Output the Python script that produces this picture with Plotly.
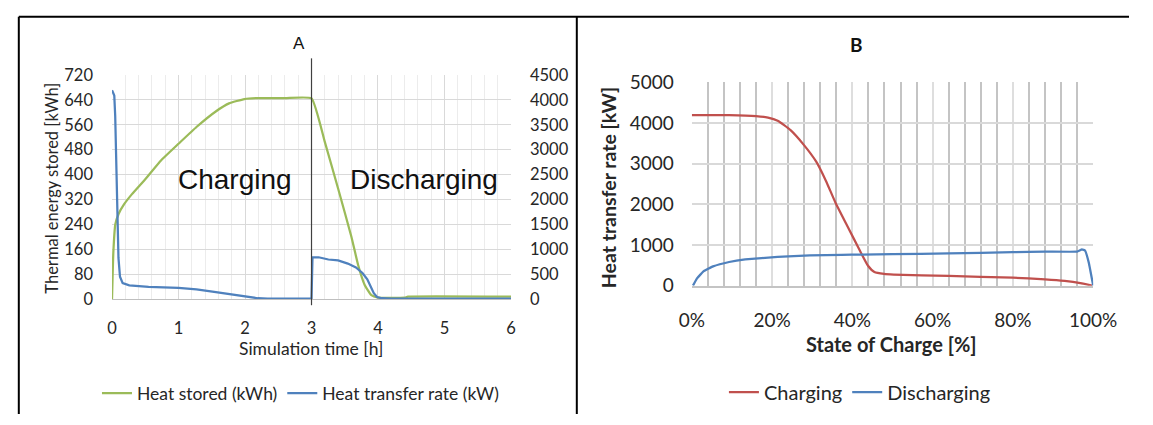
import plotly.graph_objects as go

# ---------------- Data: panel A (time series) ----------------
stored_t_h = [0, 0.02, 0.05, 0.10, 0.18, 0.30, 0.50, 0.74, 1.00, 1.27, 1.56, 1.76, 1.99, 2.19, 2.60, 3.00,
              3.20, 3.40, 3.60, 3.70, 3.80, 3.90, 4.00, 4.40, 4.45, 6.00]
stored_kwh = [0, 150, 240, 274, 304, 337, 385, 446, 499, 553, 603, 629, 643, 646, 646, 645,
              505, 355, 200, 110, 45, 12, 4, 4, 7, 7]

rate_t_h = [0, 0.034, 0.048, 0.063, 0.077, 0.097, 0.12, 0.16, 0.26, 0.55, 1.00, 1.27, 1.51, 1.76, 2.00,
            2.19, 2.34, 2.99, 3.00, 3.015, 3.107, 3.254, 3.40, 3.546, 3.668, 3.766, 3.839, 3.888,
            3.937, 3.985, 4.06, 4.20, 6.00]
rate_kw = [4196, 4089, 3677, 2726, 1648, 824, 444, 317, 273, 241, 222, 190, 146, 95, 44,
           13, 6, 5, 5, 837, 837, 792, 773, 710, 634, 520, 393, 254,
           114, 38, 13, 5, 5]

phase_switch_h = 3

# ---------------- Data: panel B (state of charge) ----------------
charge_soc = [0, 9.3, 16, 19, 21.4, 24.6, 27.8, 31, 33.4, 35.8, 39, 41.8, 43.9, 45.5, 47.9, 50.3,
              64, 80, 88, 92.9, 96.8, 99.7]
charge_kw = [4194, 4194, 4170, 4132, 4054, 3822, 3473, 3047, 2581, 2039, 1419, 876, 488, 333, 287, 271,
             240, 194, 155, 116, 62, 0]

discharge_soc = [0.3, 1.3, 2.9, 5.3, 9.3, 13.3, 21.4, 29.4, 37.4, 42.2, 50, 64, 80, 88, 96, 97.2, 98, 98.9, 100]
discharge_kw = [0, 178, 349, 473, 581, 643, 705, 744, 755, 765, 775, 791, 822, 837, 837, 891, 860, 566, 0]

left_ticks_a = list(range(0, 721, 80))
right_ticks_a = list(range(0, 4501, 500))

# ---------------- Style ----------------
W, H = 1153, 425
GREEN = "#9BBB59"
BLUE = "#4F81BD"
RED = "#C0504D"
TXT = "#262626"
FONT = "Lato, 'Open Sans', sans-serif"
ARIAL = "'Liberation Sans', Arial, sans-serif"


def px_x(p):
    return p / W


def px_y(p):
    return (H - p) / H


fig = go.Figure()

fig.add_trace(go.Scatter(x=stored_t_h, y=stored_kwh, mode="lines", name="Heat stored (kWh)",
                         line=dict(color=GREEN, width=2.25, shape="spline", smoothing=0.4),
                         xaxis="x", yaxis="y", legend="legend"))
fig.add_trace(go.Scatter(x=rate_t_h, y=rate_kw, mode="lines", name="Heat transfer rate (kW)",
                         line=dict(color=BLUE, width=2.25),
                         xaxis="x", yaxis="y2", legend="legend"))
fig.add_trace(go.Scatter(x=charge_soc, y=charge_kw, mode="lines", name="Charging",
                         line=dict(color=RED, width=2.25, shape="spline", smoothing=0.5),
                         xaxis="x2", yaxis="y3", legend="legend2"))
fig.add_trace(go.Scatter(x=discharge_soc, y=discharge_kw, mode="lines", name="Discharging",
                         line=dict(color=BLUE, width=2.25, shape="spline", smoothing=0.3),
                         xaxis="x2", yaxis="y3", legend="legend2"))

tickfont_a = dict(family=FONT, size=16.5, color=TXT)
tickfont_b = dict(family=FONT, size=19, color=TXT)

fig.update_layout(
    width=W, height=H,
    margin=dict(l=0, r=0, t=0, b=0),
    paper_bgcolor="white", plot_bgcolor="white",
    font=dict(family=FONT, color=TXT),
    xaxis=dict(domain=[px_x(102.3), px_x(514.5)], anchor="y", range=[0, 6], dtick=1,
               showgrid=True, gridcolor="#d9d9d9", gridwidth=1,
               minor=dict(dtick=0.2, showgrid=True, gridcolor="#ececec", gridwidth=1),
               zeroline=False, showline=True, linecolor="#bfbfbf", linewidth=1,
               ticks="", tickfont=tickfont_a, ticklabelstandoff=14, fixedrange=True),
    yaxis=dict(domain=[px_y(303.3), px_y(66.7)], anchor="x", range=[0, 720],
               tickvals=left_ticks_a, showgrid=True, gridcolor="#d9d9d9", gridwidth=1,
               zeroline=False, showline=False, ticks="", tickfont=tickfont_a,
               ticklabelstandoff=18, fixedrange=True),
    yaxis2=dict(overlaying="y", side="right", anchor="x", range=[0, 4500],
                tickvals=right_ticks_a, showgrid=False, zeroline=False, showline=False,
                ticks="", tickfont=tickfont_a, ticklabelstandoff=18, fixedrange=True),
    xaxis2=dict(domain=[px_x(701.3), px_x(1116)], anchor="y3", range=[0, 100], dtick=20,
                ticksuffix="%", showgrid=True, gridcolor="#dedede", gridwidth=1.5,
                minor=dict(dtick=4, showgrid=True, gridcolor="#c4c4c4", gridwidth=1.5),
                zeroline=False, showline=True, linecolor="#c4c4c4", linewidth=1.5,
                ticks="", tickfont=tickfont_b, ticklabelstandoff=17, fixedrange=True),
    yaxis3=dict(domain=[px_y(289.3), px_y(74.3)], anchor="x2", range=[0, 5000], dtick=1000,
                showgrid=True, gridcolor="#d9d9d9", gridwidth=1.5, zeroline=False,
                showline=False, ticks="", tickfont=tickfont_b, ticklabelstandoff=17,
                fixedrange=True),
    legend=dict(orientation="h", x=px_x(297), y=px_y(403), xanchor="center", yanchor="middle",
                font=dict(family=FONT, size=17.5, color=TXT), bgcolor="rgba(0,0,0,0)",
                itemwidth=30),
    legend2=dict(orientation="h", x=px_x(875), y=px_y(402), xanchor="center", yanchor="middle",
                 font=dict(family=FONT, size=20, color=TXT), bgcolor="rgba(0,0,0,0)",
                 itemwidth=30),
    showlegend=True,
)

annotations = [
    dict(text="A", x=px_x(295), y=px_y(33), font=dict(family=ARIAL, size=17, color="#111")),
    dict(text="B", x=px_x(871), y=px_y(34), font=dict(family=FONT, size=19, color="#111", weight="bold")),
    dict(text="Charging", x=px_x(229.5), y=px_y(177), font=dict(family=ARIAL, size=28, color="#111")),
    dict(text="Discharging", x=px_x(424.5), y=px_y(177), font=dict(family=ARIAL, size=28, color="#111")),
    dict(text="Simulation time [h]", x=px_x(308), y=px_y(356), font=dict(family=FONT, size=17.5, color=TXT)),
    dict(text="Thermal energy stored [kWh]", x=px_x(40), y=px_y(186), textangle=-90,
         font=dict(family=FONT, size=16.5, color=TXT)),
    dict(text="State of Charge [%]", x=px_x(908), y=px_y(351),
         font=dict(family=FONT, size=20, color=TXT, weight="bold")),
    dict(text="Heat transfer rate [kW]", x=px_x(616), y=px_y(186), textangle=-90,
         font=dict(family=FONT, size=19.5, color=TXT, weight="bold")),
]
for a in annotations:
    a.update(xref="paper", yref="paper", showarrow=False, xanchor="center", yanchor="middle")
fig.update_layout(annotations=annotations)

shapes = [
    # phase switch marker in panel A
    dict(type="line", xref="x", yref="paper", x0=phase_switch_h, x1=phase_switch_h,
         y0=px_y(310), y1=px_y(49), line=dict(color="#404040", width=1.2)),
    # outer frame (cropped) and divider
    dict(type="line", xref="paper", yref="paper", x0=px_x(6), x1=1, y0=px_y(5), y1=px_y(5),
         line=dict(color="black", width=2)),
    dict(type="line", xref="paper", yref="paper", x0=px_x(6), x1=px_x(6), y0=0, y1=px_y(5),
         line=dict(color="black", width=2)),
    dict(type="line", xref="paper", yref="paper", x0=px_x(582.5), x1=px_x(582.5), y0=0, y1=px_y(5),
         line=dict(color="black", width=2)),
]
fig.update_layout(shapes=shapes)

fig.write_html(
    "out.html",
    config={"displayModeBar": False},
    post_script="document.body.style.margin='0';document.body.style.overflow='hidden';",
)
